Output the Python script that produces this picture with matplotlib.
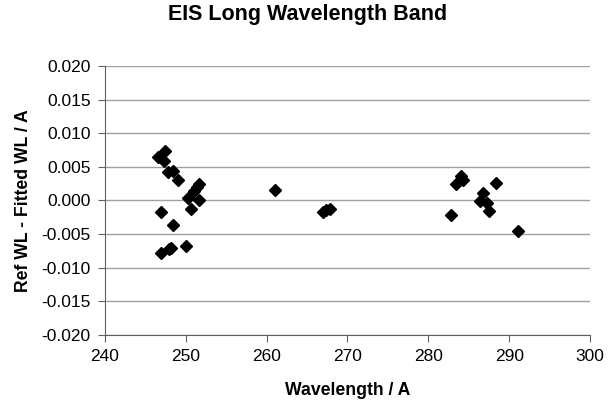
import matplotlib.pyplot as plt

plt.rcParams['font.family'] = ['Liberation Sans', 'DejaVu Sans']

# wavelength (A) and residual (A)
wl = [247.4, 246.6, 247.3, 247.8, 248.4, 249.0, 251.7, 251.4, 251.0,
      250.3, 251.6, 250.7, 247.0, 248.5, 250.1, 248.2, 247.9, 246.9,
      261.0, 267.0, 267.4, 267.8,
      284.0, 283.4, 284.3, 288.4, 286.7, 286.4, 287.2, 287.5, 282.8, 291.1]
resid = [0.0074, 0.0064, 0.0059, 0.0042, 0.0044, 0.0031, 0.0025, 0.0020, 0.0014,
         0.0003, 0.0001, -0.0012, -0.0017, -0.0036, -0.0067, -0.0070, -0.0072, -0.0078,
         0.0016, -0.0017, -0.0014, -0.0012,
         0.0036, 0.0025, 0.0030, 0.0026, 0.0011, -0.0001, -0.0004, -0.0016, -0.0022, -0.0046]

fig = plt.figure(figsize=(6.16, 4.03), dpi=100)
ax = fig.add_axes([0.170, 0.169, 0.788, 0.667])

ax.plot(wl, resid, 'D', color='black', markersize=6, zorder=3)

ax.set_xlim(240, 300)
ax.set_ylim(-0.020, 0.020)
ax.set_xticks(range(240, 301, 10))
ax.set_yticks([-0.020, -0.015, -0.010, -0.005, 0.0, 0.005, 0.010, 0.015, 0.020])
ax.set_yticklabels(['%.3f' % v for v in ax.get_yticks()])
ax.yaxis.grid(True, color='#a0a0a0', linewidth=1)
ax.set_axisbelow(True)

for s in ['top', 'right']:
    ax.spines[s].set_visible(False)
for s in ['left', 'bottom']:
    ax.spines[s].set_color('#606060')
ax.tick_params(direction='out', length=5, color='#606060', labelsize=12.5, pad=5)

ax.set_xlabel('Wavelength / A', fontsize=12.7, fontweight='bold', labelpad=13)
ax.set_ylabel('Ref WL - Fitted WL / A', fontsize=12.7, fontweight='bold', labelpad=7)
fig.suptitle('EIS Long Wavelength Band', fontsize=15.5, fontweight='bold', x=0.499, y=0.99)

plt.savefig('out.png')
